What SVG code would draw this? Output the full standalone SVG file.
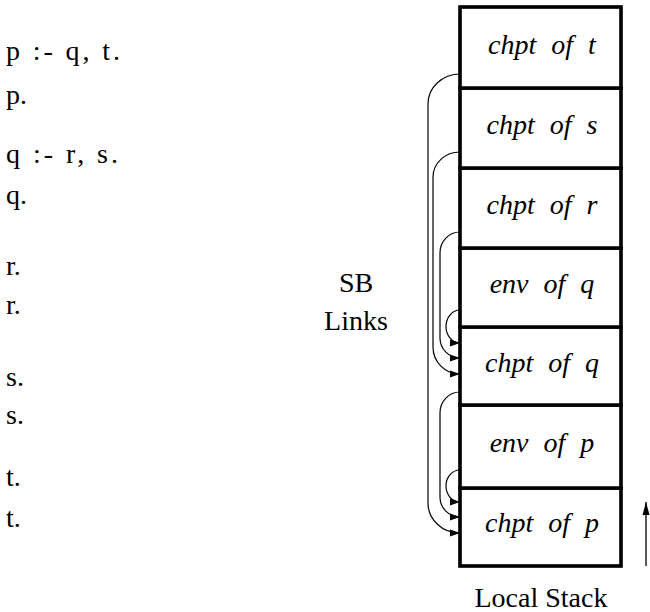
<svg xmlns="http://www.w3.org/2000/svg" width="650" height="612" viewBox="0 0 650 612">
  <style>
    .txt { font-family: "Liberation Serif", "DejaVu Serif", serif; font-size: 28px; fill: #000; }
    .lbl { font-family: "Liberation Serif", "DejaVu Serif", serif; font-size: 28px; font-style: italic; fill: #000; text-anchor: middle; word-spacing: 8px; }
    .cell { fill: #fff; stroke: #000; stroke-width: 3.5; }
    .link { fill: none; stroke: #000; stroke-width: 1.2; marker-end: url(#head); }
  </style>
  <defs>
    <marker id="head" markerUnits="userSpaceOnUse" markerWidth="11" markerHeight="9" refX="10" refY="4.5" orient="auto">
      <path d="M0,1 L10,4.5 L0,8 Z" fill="#000"/>
    </marker>
    <marker id="uphead" markerUnits="userSpaceOnUse" markerWidth="14" markerHeight="9" refX="13" refY="4.5" orient="auto">
      <path d="M0,1 L13,4.5 L0,8 Z" fill="#000"/>
    </marker>
  </defs>

  <!-- program clauses -->
  <g id="program">
    <text class="txt" x="6" y="60" textLength="114" lengthAdjust="spacing">p :- q, t.</text>
    <text class="txt" x="6" y="104">p.</text>
    <text class="txt" x="6" y="163" textLength="112" lengthAdjust="spacing">q :- r, s.</text>
    <text class="txt" x="6" y="204">q.</text>
    <text class="txt" x="6" y="275">r.</text>
    <text class="txt" x="6" y="314">r.</text>
    <text class="txt" x="6" y="386">s.</text>
    <text class="txt" x="6" y="424">s.</text>
    <text class="txt" x="6" y="486">t.</text>
    <text class="txt" x="6" y="527">t.</text>
  </g>

  <g id="sb-label">
    <text class="txt" x="356" y="292" text-anchor="middle">SB</text>
    <text class="txt" x="356" y="330" text-anchor="middle">Links</text>
  </g>

  <!-- local stack frames, bottom to top -->
  <g id="chpt-p"><rect class="cell" x="460" y="488" width="161" height="78"/><text class="lbl" x="542" y="532">chpt of p</text></g>
  <g id="env-p"><rect class="cell" x="460" y="405" width="161" height="83"/><text class="lbl" x="542" y="452">env of p</text></g>
  <g id="chpt-q"><rect class="cell" x="460" y="327" width="161" height="78"/><text class="lbl" x="542" y="372">chpt of q</text></g>
  <g id="env-q"><rect class="cell" x="460" y="248" width="161" height="79"/><text class="lbl" x="542" y="293">env of q</text></g>
  <g id="chpt-r"><rect class="cell" x="460" y="168" width="161" height="80"/><text class="lbl" x="542" y="214">chpt of r</text></g>
  <g id="chpt-s"><rect class="cell" x="460" y="88" width="161" height="80"/><text class="lbl" x="542" y="134">chpt of s</text></g>
  <g id="chpt-t"><rect class="cell" x="460" y="7" width="161" height="81"/><text class="lbl" x="542" y="54">chpt of t</text></g>

  <!-- outer frame drawn slightly thinner over the cells -->
  <rect x="460" y="7" width="161" height="559" fill="none" stroke="#000" stroke-width="2.6"/>

  <g id="stack-caption">
    <text class="txt" x="541" y="607" text-anchor="middle">Local Stack</text>
    <line x1="646" y1="566" x2="646" y2="502" stroke="#000" stroke-width="1.3" marker-end="url(#uphead)"/>
  </g>

  <!-- SB links -->
  <g id="links">
    <path class="link" d="M460,74 A32,30 0 0 0 428,104 V503 A32,30 0 0 0 460,533"/>
    <path class="link" d="M460,152 A27,25 0 0 0 433,177 V347 A27,27 0 0 0 460,374"/>
    <path class="link" d="M460,232 A20,21 0 0 0 440,253 V338 A20,20 0 0 0 460,358"/>
    <path class="link" d="M460,310 A14,16.5 0 0 0 460,343"/>
    <path class="link" d="M460,392 A20,21 0 0 0 440,413 V497 A20,20 0 0 0 460,517"/>
    <path class="link" d="M460,470 A14,16 0 0 0 460,502"/>
  </g>
</svg>
